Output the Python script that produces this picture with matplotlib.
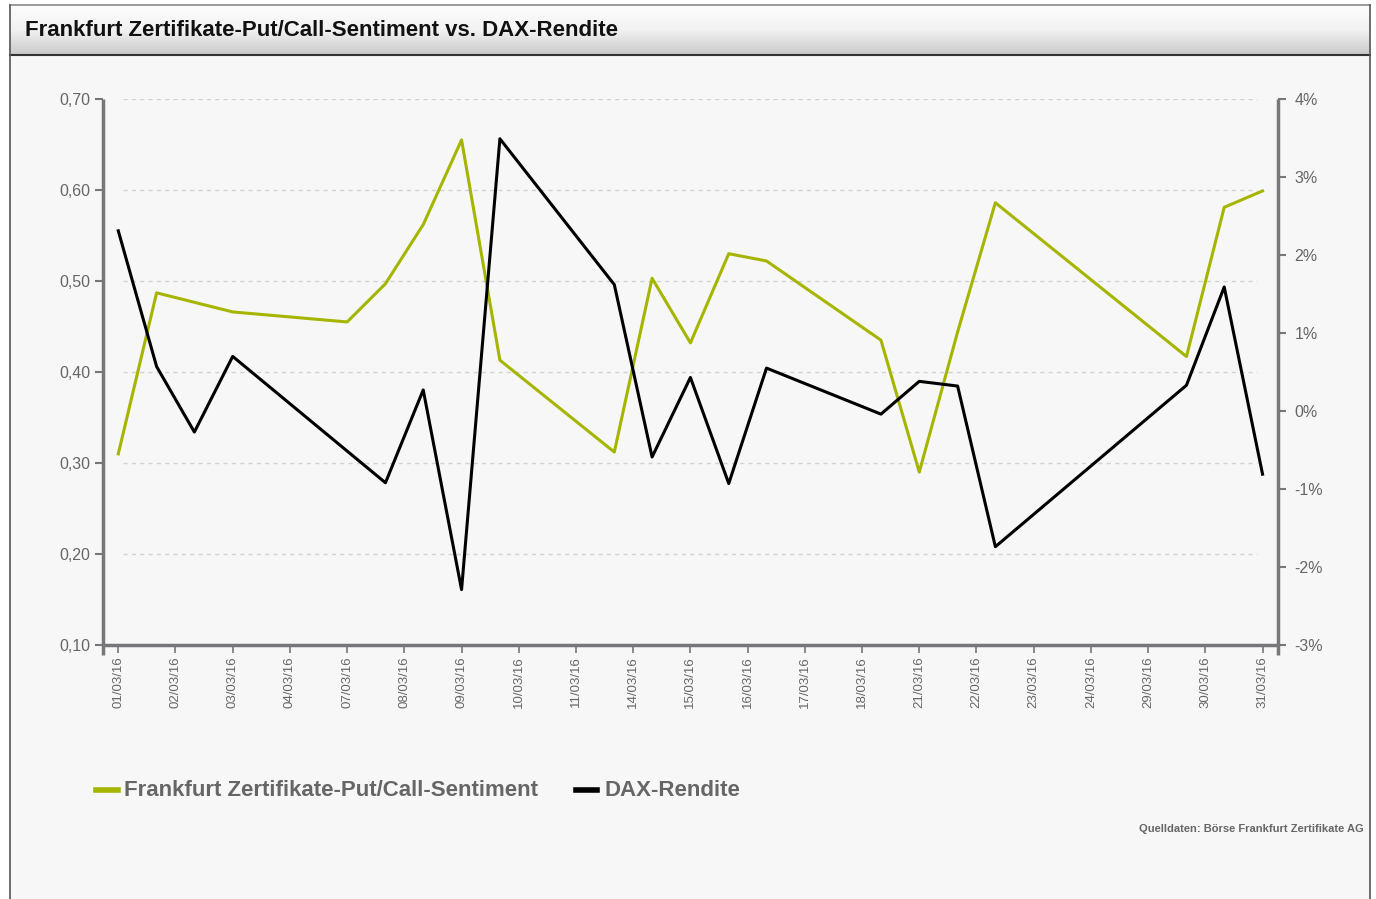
import numpy as np
import matplotlib
matplotlib.use("Agg")
import matplotlib.pyplot as plt
from matplotlib.patches import Rectangle
from matplotlib.lines import Line2D
from matplotlib.colors import LinearSegmentedColormap

# ---------------- data ----------------
tick_labels = ["01/03/16", "02/03/16", "03/03/16", "04/03/16", "07/03/16", "08/03/16",
               "09/03/16", "10/03/16", "11/03/16", "14/03/16", "15/03/16", "16/03/16",
               "17/03/16", "18/03/16", "21/03/16", "22/03/16", "23/03/16", "24/03/16",
               "29/03/16", "30/03/16", "31/03/16"]

# positions in trading-day units (0 = 01/03/16)
sent_x = [0, 0.67, 2, 4, 4.67, 5.33, 6, 6.67, 8.67, 9.33, 10, 10.67, 11.33,
          13.33, 14, 14.67, 15.33, 18.67, 19.33, 20]
sentiment = [0.310, 0.487, 0.466, 0.455, 0.497, 0.562, 0.655, 0.413, 0.312, 0.503,
             0.432, 0.530, 0.522, 0.435, 0.290, 0.444, 0.586, 0.417, 0.581, 0.599]

dax_x = [0, 0.67, 1.33, 2, 4.67, 5.33, 6, 6.67, 8.67, 9.33, 10, 10.67, 11.33,
         13.33, 14, 14.67, 15.33, 18.67, 19.33, 20]
dax_ret = [2.31, 0.57, -0.27, 0.70, -0.92, 0.27, -2.29, 3.49, 1.62, -0.59,
           0.43, -0.93, 0.55, -0.04, 0.38, 0.32, -1.74, 0.33, 1.59, -0.81]

left_ticks = [0.10, 0.20, 0.30, 0.40, 0.50, 0.60, 0.70]
right_ticks = [-3, -2, -1, 0, 1, 2, 3, 4]

title = "Frankfurt Zertifikate-Put/Call-Sentiment vs. DAX-Rendite"
series_names = ["Frankfurt Zertifikate-Put/Call-Sentiment", "DAX-Rendite"]
source = "Quelldaten: Börse Frankfurt Zertifikate AG"

# ---------------- style ----------------
GREEN = "#a6b500"
AXC = "#77777b"
TXT = "#666666"
W, H = 1376, 899
plt.rcParams["font.family"] = ["Liberation Sans", "DejaVu Sans"]

fig = plt.figure(figsize=(W / 100, H / 100), dpi=100)
fig.patch.set_facecolor("white")

def fx(px):
    return px / W

def fy(py):
    return 1 - py / H

# panel background
fig.patches.append(Rectangle((fx(10), 0), fx(1360), fy(55), transform=fig.transFigure,
                             facecolor="#f7f7f7", edgecolor="none", zorder=-5))
# header gradient
hax = fig.add_axes([fx(10), fy(55), fx(1360), fy(5) - fy(55)])
hax.set_zorder(-4)
grad = np.linspace(0, 1, 100).reshape(-1, 1)
cmap = LinearSegmentedColormap.from_list("g", ["#fdfdfd", "#f2f2f2", "#c9c9c9"])
hax.imshow(grad, aspect="auto", cmap=cmap, extent=[0, 1, 0, 1])
hax.set_axis_off()
# borders
fig.add_artist(Line2D([fx(10), fx(1370)], [fy(5), fy(5)], color="#8a8a8a", lw=1.2))
fig.add_artist(Line2D([fx(10), fx(1370)], [fy(55), fy(55)], color="#333333", lw=1.5))
fig.add_artist(Line2D([fx(10), fx(10)], [fy(5), 0], color="#555555", lw=1.2))
fig.add_artist(Line2D([fx(1370), fx(1370)], [fy(5), 0], color="#555555", lw=1.2))

fig.text(fx(25), fy(30), title, fontsize=16, fontweight="bold", color="#111111",
         va="center", ha="left")

# ---------------- main axes ----------------
ax = fig.add_axes([fx(103), fy(645), fx(1278) - fx(103), fy(99) - fy(645)])
ax.set_facecolor("none")
ax.set_xlim(-0.267, 20.27)
ax.set_ylim(0.10, 0.70)
ax2 = ax.twinx()
ax2.set_ylim(-3, 4)

for a in (ax, ax2):
    for s in a.spines.values():
        s.set_visible(False)

# grid
for v in left_ticks[1:]:
    ax.plot([0.08, 19.9], [v, v], color="#d2d2d2", lw=1, ls=(0, (3, 3)), zorder=1)

# custom spines
ext = 10 / 546
ax.plot([0, 0], [-ext, 1.0], transform=ax.transAxes, color=AXC, lw=2.5, clip_on=False,
        solid_capstyle="butt")
ax.plot([1, 1], [-ext, 1.0], transform=ax.transAxes, color=AXC, lw=2.5, clip_on=False,
        solid_capstyle="butt")
ax.plot([0, 1], [0, 0], transform=ax.transAxes, color=AXC, lw=2.5, clip_on=False,
        solid_capstyle="butt")

ax.plot(sent_x, sentiment, color=GREEN, lw=2.2, zorder=3)
ax2.plot(dax_x, dax_ret, color="black", lw=2.2, zorder=3)

ax.set_yticks(left_ticks)
ax.set_yticklabels([f"{v:.2f}".replace(".", ",") for v in left_ticks])
ax2.set_yticks(right_ticks)
ax2.set_yticklabels([f"{v}%" for v in right_ticks])
ax.set_xticks(range(len(tick_labels)))
ax.set_xticklabels(tick_labels, rotation=90)

ax.tick_params(axis="y", length=6, width=1.5, color=AXC, labelcolor=TXT, labelsize=11.5, pad=3)
ax2.tick_params(axis="y", length=6, width=1.5, color=AXC, labelcolor=TXT, labelsize=11.5, pad=6)
ax.tick_params(axis="x", length=6, width=1.2, color=AXC, labelcolor=TXT, labelsize=9.5, pad=2)

# ---------------- legend ----------------
fig.add_artist(Line2D([fx(96), fx(118)], [fy(790), fy(790)], color=GREEN, lw=4))
fig.text(fx(124), fy(790), series_names[0], fontsize=16, fontweight="bold", color=TXT,
         va="center", ha="left")
fig.add_artist(Line2D([fx(576), fx(597)], [fy(790), fy(790)], color="black", lw=4))
fig.text(fx(604), fy(790), series_names[1], fontsize=16, fontweight="bold", color=TXT,
         va="center", ha="left")

fig.text(fx(1364), fy(829), source, fontsize=8, fontweight="bold", color=TXT,
         va="center", ha="right")

fig.savefig("out.png", dpi=100, facecolor="white")
